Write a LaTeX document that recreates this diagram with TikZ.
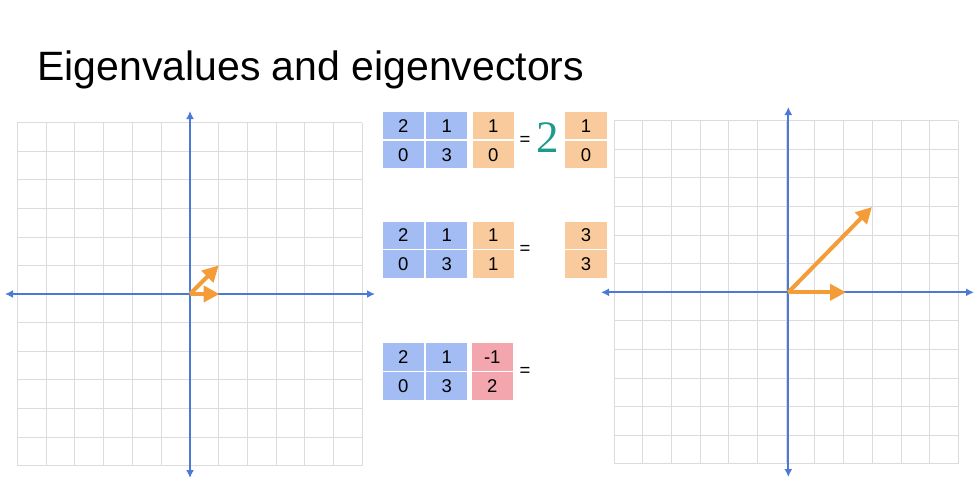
\documentclass[tikz,border=0pt]{standalone}
\usepackage{fontspec}
\setmainfont{Liberation Sans}
\newfontfamily\serifnum{Liberation Serif}
\usetikzlibrary{arrows.meta}
\definecolor{cellblue}{HTML}{A4BCF4}
\definecolor{cellorange}{HTML}{F9CB9C}
\definecolor{cellpink}{HTML}{F4A6AE}
\definecolor{axisblue}{HTML}{4A7AD6}
\definecolor{vecorange}{HTML}{F39C38}
\definecolor{gridgray}{HTML}{DCDCDC}
\definecolor{tealnum}{HTML}{1E9A8C}
\tikzset{
  cell/.style={minimum width=41.5pt,minimum height=27.5pt,inner sep=0pt,text height=13pt,text depth=0pt,font=\fontsize{18.5}{18.5}\selectfont},
  bcell/.style={cell,fill=cellblue},
  ocell/.style={cell,fill=cellorange},
  pcell/.style={cell,fill=cellpink},
  eqsign/.style={inner sep=0pt,font=\fontsize{18.5}{18.5}\selectfont},
  gridline/.style={gridgray,line width=1pt},
  axisline/.style={axisblue,line width=2pt,{Latex[length=8pt,width=8pt]}-{Latex[length=8pt,width=8pt]}},
  vec/.style={vecorange,line width=4pt,-{Triangle[length=16pt,width=16pt]}},
}
\begin{document}
\begin{tikzpicture}[x=1pt,y=-1pt]
\useasboundingbox (0,0) rectangle (980,485);
\fill[white] (0,0) rectangle (980,485);
% title
\node[anchor=base west,inner sep=0pt,font=\fontsize{41}{41}\selectfont] (title) at (37,80) {Eigenvalues and eigenvectors};
% left grid
\foreach \i in {0,...,12} {
  \draw[gridline] ({17.3+\i*28.75},122.7) -- ({17.3+\i*28.75},465.7);
  \draw[gridline] (17.3,{122.7+\i*28.58}) -- (362.3,{122.7+\i*28.58});
}
\coordinate (lT) at (190,111);
\coordinate (lB) at (190,478);
\coordinate (lL) at (5,294);
\coordinate (lR) at (375,294);
\draw[axisline] (lB) -- (lT);
\draw[axisline] (lL) -- (lR);
\coordinate (lo) at (190,294);
\coordinate (l11) at (218.7,265.4);
\coordinate (l10) at (219.5,294);
\draw[vec] (lo) -- (l11);
\draw[vec] (lo) -- (l10);
% right grid
\foreach \i in {0,...,12} {
  \draw[gridline] ({614.3+\i*28.67},120.7) -- ({614.3+\i*28.67},464);
  \draw[gridline] (614.3,{120.7+\i*28.6}) -- (958.3,{120.7+\i*28.6});
}
\coordinate (rT) at (788.3,107);
\coordinate (rB) at (788.3,477);
\coordinate (rL) at (601,292.3);
\coordinate (rR) at (974,292.3);
\draw[axisline] (rB) -- (rT);
\draw[axisline] (rL) -- (rR);
\coordinate (ro) at (788.3,292.3);
\coordinate (r33) at (872,207);
\coordinate (r20) at (846,292.3);
\draw[vec] (ro) -- (r33);
\draw[vec] (ro) -- (r20);
% row 1
\node[bcell] (a11) at (403.3,125.5) {2};
\node[bcell] (a12) at (446.7,125.5) {1};
\node[bcell] (a21) at (403.3,154.7) {0};
\node[bcell] (a22) at (446.7,154.7) {3};
\node[ocell] (v1) at (493.3,125.5) {1};
\node[ocell] (v2) at (493.3,154.7) {0};
\node[eqsign] (eq1) at (525,141) {=};
\node[inner sep=0pt,text=tealnum,font=\serifnum\fontsize{45}{45}\selectfont] (lam) at (548,138) {2};
\node[ocell] (w1) at (586,125.5) {1};
\node[ocell] (w2) at (586,154.7) {0};
% row 2
\node[bcell] (b11) at (403.3,235.3) {2};
\node[bcell] (b12) at (446.7,235.3) {1};
\node[bcell] (b21) at (403.3,264.2) {0};
\node[bcell] (b22) at (446.7,264.2) {3};
\node[ocell] (u1) at (493.3,235.3) {1};
\node[ocell] (u2) at (493.3,264.2) {1};
\node[eqsign] (eq2) at (525,249.5) {=};
\node[ocell] (x1) at (586,235.3) {3};
\node[ocell] (x2) at (586,264.2) {3};
% row 3
\node[bcell] (c11) at (403.3,357) {2};
\node[bcell] (c12) at (446.7,357) {1};
\node[bcell] (c21) at (403.3,386) {0};
\node[bcell] (c22) at (446.7,386) {3};
\node[pcell] (p1) at (492.3,357) {-1};
\node[pcell] (p2) at (492.3,386) {2};
\node[eqsign] (eq3) at (525,372) {=};
\end{tikzpicture}
\end{document}
